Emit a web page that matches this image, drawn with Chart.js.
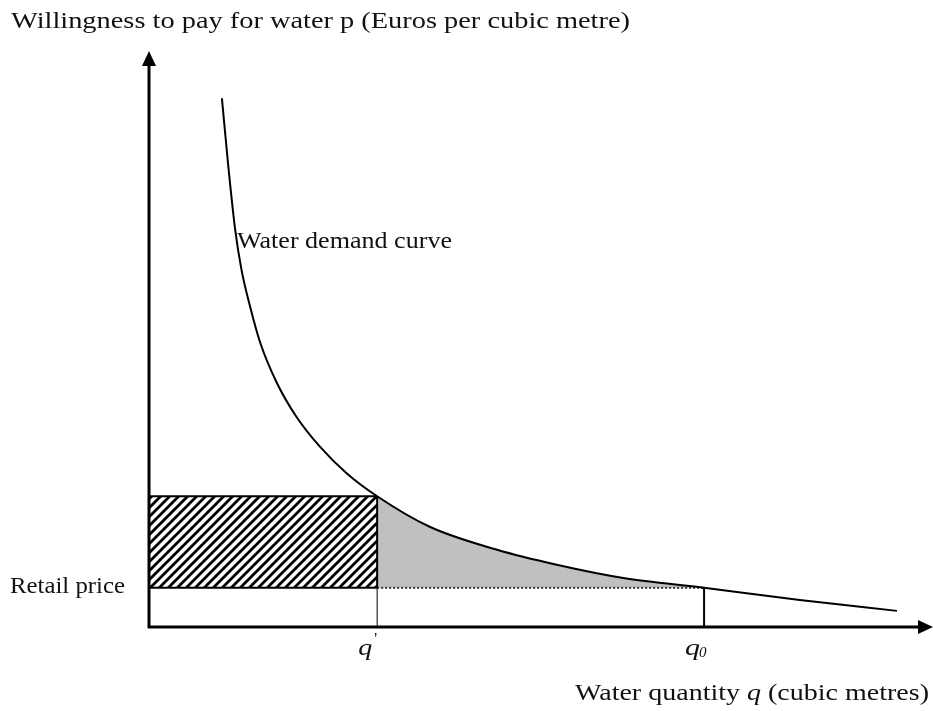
<!DOCTYPE html>
<html lang="en">
<head>
    <meta charset="UTF-8">
    <title>Water demand curve</title>
    <script src="https://cdn.jsdelivr.net/npm/chart.js"></script>
    <style>
        body {
            margin: 0;
            background: #fff;
        }
        #wrap {
            width: 933px;
            height: 711px;
        }
    </style>
</head>
<body>

    <div id="wrap">
        <canvas id="demandChart"></canvas>
    </div>

    <script>
        // demand curve (quantity, willingness to pay)
        const curveQ = [9.3, 10.1, 11.0, 11.8, 12.9, 14.2, 16.3, 18.8, 21.8, 25.2, 29.1, 35.8, 44.4, 52.0, 60.5, 70.8, 83.0, 95.4];
        const curveP = [91.8, 80.2, 68.9, 62.0, 55.6, 49.3, 42.4, 36.5, 31.3, 26.7, 22.7, 17.4, 13.4, 10.8, 8.5, 6.8, 4.7, 2.8];

        const qPrime = 29.1;      // q'
        const qZero = 70.8;       // q0
        const priceAtQPrime = 22.7;
        const retailPrice = 6.8;

        const tickLabels = ['q', 'q'];
        const yTitle = 'Willingness to pay for water p (Euros per cubic metre)';
        const curveLabel = 'Water demand curve';
        const priceLabel = 'Retail price';

        const serif = '"Liberation Serif", "DejaVu Serif", serif';

        // hatch pattern for the rectangle
        function makeHatch() {
            const c = document.createElement('canvas');
            c.width = 9;
            c.height = 9;
            const g = c.getContext('2d');
            g.strokeStyle = '#000';
            g.lineWidth = 2.8;
            g.beginPath();
            g.moveTo(-2, 11);
            g.lineTo(11, -2);
            g.moveTo(-2, 2);
            g.lineTo(2, -2);
            g.moveTo(7, 11);
            g.lineTo(11, 7);
            g.stroke();
            const ctx = document.getElementById('demandChart').getContext('2d');
            return ctx.createPattern(c, 'repeat');
        }

        // draw a run of [text, font] pieces stretched to a given width
        function stretchText(ctx, pieces, x, y, width) {
            let total = 0;
            pieces.forEach(p => {
                ctx.font = p[1];
                total += ctx.measureText(p[0]).width;
            });
            ctx.save();
            ctx.translate(x, y);
            ctx.scale(width / total, 1);
            let cx = 0;
            pieces.forEach(p => {
                ctx.font = p[1];
                ctx.fillText(p[0], cx, 0);
                cx += ctx.measureText(p[0]).width;
            });
            ctx.restore();
        }

        const curvePoints = curveQ.map((q, i) => ({ x: q, y: curveP[i] }));
        const grayPoints = curvePoints.filter(p => p.x >= qPrime && p.x <= qZero);

        // axes, arrows and texts
        const decorPlugin = {
            id: 'decor',
            afterDatasetsDraw(chart) {
                const ctx = chart.ctx;
                const x = chart.scales.x;
                const y = chart.scales.y;
                const x0 = x.getPixelForValue(0);
                const y0 = y.getPixelForValue(0);
                const xEnd = x.getPixelForValue(x.max);
                const yEnd = y.getPixelForValue(y.max);

                ctx.save();
                ctx.strokeStyle = '#000';
                ctx.fillStyle = '#000';
                ctx.lineWidth = 3;
                ctx.beginPath();
                ctx.moveTo(x0, y0 + 1);
                ctx.lineTo(x0, yEnd + 12);
                ctx.moveTo(x0 - 1, y0);
                ctx.lineTo(xEnd - 12, y0);
                ctx.stroke();

                // arrow heads
                ctx.beginPath();
                ctx.moveTo(x0, yEnd);
                ctx.lineTo(x0 - 7, yEnd + 15);
                ctx.lineTo(x0 + 7, yEnd + 15);
                ctx.closePath();
                ctx.fill();
                ctx.beginPath();
                ctx.moveTo(xEnd, y0);
                ctx.lineTo(xEnd - 15, y0 - 7);
                ctx.lineTo(xEnd - 15, y0 + 7);
                ctx.closePath();
                ctx.fill();

                ctx.fillStyle = '#111';
                ctx.textBaseline = 'alphabetic';
                ctx.textAlign = 'left';
                const f = '23px ' + serif;
                const fi = 'italic 23px ' + serif;

                stretchText(ctx, [[yTitle, f]], 11, 28, 619);
                stretchText(ctx, [[curveLabel, f]], 237, 248, 215);
                stretchText(ctx, [[priceLabel, f]], 10, y.getPixelForValue(retailPrice) + 5, 115);
                stretchText(ctx, [['Water quantity ', f], ['q', fi], [' (cubic metres)', f]], 575, 700, 354);

                // tick labels
                const qpx = x.getPixelForValue(qPrime);
                stretchText(ctx, [[tickLabels[0], 'italic 24px ' + serif]], qpx - 19, 655, 14);
                ctx.font = '16px ' + serif;
                ctx.fillText("'", qpx - 3, 644);

                const q0px = x.getPixelForValue(qZero);
                stretchText(ctx, [[tickLabels[1], 'italic 24px ' + serif]], q0px - 19, 655, 15);
                ctx.font = 'italic 15px ' + serif;
                ctx.fillText('0', q0px - 5, 657);
                ctx.restore();
            }
        };

        const ctx = document.getElementById('demandChart').getContext('2d');
        const hatch = makeHatch();

        const chart = new Chart(ctx, {
            type: 'line',
            data: {
                datasets: [
                    {
                        // demand curve
                        data: curvePoints,
                        borderColor: '#000',
                        borderWidth: 2,
                        cubicInterpolationMode: 'monotone',
                        pointRadius: 0,
                        fill: false,
                        order: 0
                    },
                    {
                        // hatched rectangle top edge + fill
                        data: [{ x: 0, y: priceAtQPrime }, { x: qPrime, y: priceAtQPrime }],
                        borderColor: '#000',
                        borderWidth: 2,
                        backgroundColor: hatch,
                        pointRadius: 0,
                        fill: { value: retailPrice },
                        order: 3
                    },
                    {
                        // consumer surplus area
                        data: grayPoints,
                        borderWidth: 0,
                        borderColor: 'rgba(0,0,0,0)',
                        backgroundColor: '#c0c0c0',
                        cubicInterpolationMode: 'monotone',
                        pointRadius: 0,
                        fill: { value: retailPrice },
                        order: 4
                    },
                    {
                        // bottom edge of hatched rectangle
                        data: [{ x: 0, y: retailPrice }, { x: qPrime, y: retailPrice }],
                        borderColor: '#000',
                        borderWidth: 2,
                        pointRadius: 0,
                        fill: false,
                        order: 1
                    },
                    {
                        // right edge of hatched rectangle
                        data: [{ x: qPrime, y: retailPrice }, { x: qPrime, y: priceAtQPrime }],
                        borderColor: '#000',
                        borderWidth: 2,
                        pointRadius: 0,
                        fill: false,
                        order: 1
                    },
                    {
                        // thin line down to q'
                        data: [{ x: qPrime, y: 0 }, { x: qPrime, y: retailPrice }],
                        borderColor: '#000',
                        borderWidth: 1,
                        pointRadius: 0,
                        fill: false,
                        order: 1
                    },
                    {
                        // retail price dotted line
                        data: [{ x: qPrime, y: retailPrice }, { x: qZero, y: retailPrice }],
                        borderColor: '#333',
                        borderWidth: 2,
                        borderDash: [2, 2],
                        pointRadius: 0,
                        fill: false,
                        order: 1
                    },
                    {
                        // line down to q0
                        data: [{ x: qZero, y: 0 }, { x: qZero, y: retailPrice }],
                        borderColor: '#000',
                        borderWidth: 2,
                        pointRadius: 0,
                        fill: false,
                        order: 1
                    }
                ]
            },
            options: {
                responsive: true,
                maintainAspectRatio: false,
                animation: false,
                layout: {
                    padding: { left: 149, right: 0, top: 51, bottom: 84 }
                },
                plugins: {
                    legend: { display: false },
                    tooltip: { enabled: false }
                },
                scales: {
                    x: {
                        type: 'linear',
                        min: 0,
                        max: 100,
                        display: false
                    },
                    y: {
                        type: 'linear',
                        min: 0,
                        max: 100,
                        display: false
                    }
                }
            },
            plugins: [decorPlugin]
        });
    </script>

</body>
</html>
